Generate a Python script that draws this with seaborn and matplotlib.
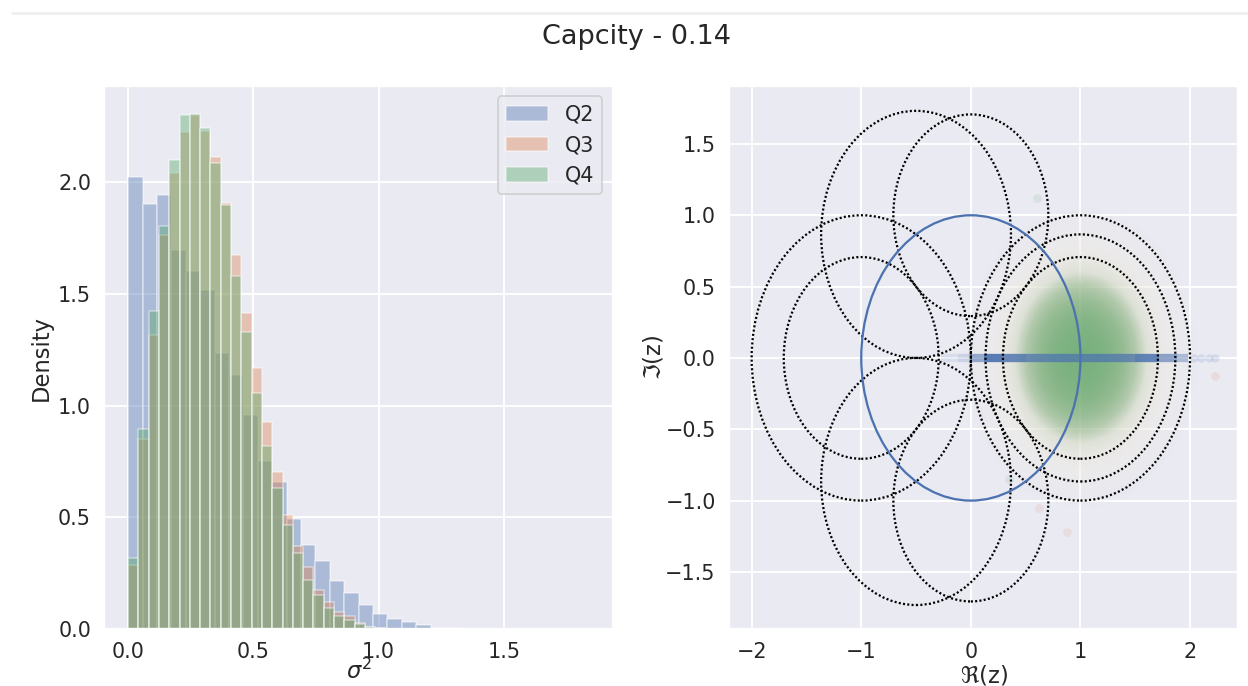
import numpy as np
import pandas as pd
import matplotlib
matplotlib.use("Agg")
import matplotlib.pyplot as plt
from matplotlib.patches import Circle
from matplotlib.lines import Line2D
import seaborn as sns

# ---- histogram of sigma^2 (density per bin) ----
q2_bin_width = 0.0575
q2_density = [2.024, 1.901, 1.941, 1.694, 1.603, 1.518, 1.236, 1.136, 0.957, 0.750,
              0.660, 0.491, 0.375, 0.303, 0.214, 0.159, 0.107, 0.069, 0.046, 0.030,
              0.016, 0.006, 0.003, 0.002, 0.001, 0.001, 0.0, 0.0, 0.001, 0.0, 0.0, 0.001]

q34_bin_width = 0.0411
q3_density = [0.287, 0.849, 1.317, 1.762, 2.040, 2.223, 2.300, 2.228, 2.112, 1.907,
              1.673, 1.415, 1.167, 0.925, 0.702, 0.510, 0.373, 0.278, 0.175, 0.120,
              0.075, 0.056, 0.027, 0.011, 0.005, 0.002, 0.001]
q4_density = [0.319, 0.893, 1.421, 1.802, 2.100, 2.301, 2.307, 2.244, 2.085, 1.899,
              1.582, 1.330, 1.056, 0.821, 0.633, 0.466, 0.341, 0.218, 0.152, 0.094,
              0.059, 0.040, 0.021, 0.009, 0.004, 0.002, 0.001]

series_labels = ["Q2", "Q3", "Q4"]

# ---- complex plane ----
# Q2 values lie on the real axis: segments of the dense band and their opacity
band_start = [-0.27, -0.12, 0.00, 0.12, 0.30, 0.50, 1.50, 1.72, 1.88]
band_end = [-0.12, 0.00, 0.12, 0.30, 0.50, 1.50, 1.72, 1.88, 1.98]
band_alpha = [0.10, 0.20, 0.55, 0.92, 0.82, 0.72, 0.85, 0.60, 0.40]
band_tail_x = [2.04, 2.10, 2.17, 2.23]

# Q3 / Q4 clouds around 1+0j: opacity by distance from the centre
cloud_center = (1.0, 0.0)
cloud_radius = [0.0, 0.1, 0.2, 0.3, 0.4, 0.5, 0.6, 0.7, 0.8, 0.9, 1.0, 1.1]
halo_opacity = [0.20, 0.22, 0.26, 0.32, 0.42, 0.52, 0.60, 0.55, 0.38, 0.18, 0.06, 0.0]
q3_opacity = [0.30, 0.30, 0.29, 0.27, 0.24, 0.18, 0.10, 0.07, 0.045, 0.025, 0.01, 0.0]
q4_opacity = [0.76, 0.75, 0.72, 0.66, 0.56, 0.40, 0.14, 0.06, 0.03, 0.015, 0.006, 0.0]
q3_stray_x = [0.88, 2.23, 0.62]
q3_stray_y = [-1.22, -0.13, -1.05]
q4_stray_x = [0.60, 0.35]
q4_stray_y = [1.12, -0.85]

# reference circles (dotted)
circle_cx = [1.0, 1.0, 1.0, -1.0, -1.0, 0.0, -0.5, 0.0, -0.5]
circle_cy = [0.0, 0.0, 0.0, 0.0, 0.0, 1.0, 0.866, -1.0, -0.866]
circle_r = [1.0, 0.866, 0.707, 1.0, 0.707, 0.707, 0.866, 0.707, 0.866]

sns.set_theme(style="darkgrid", context="notebook")
pal = sns.color_palette("deep")

DPI = 136
fig = plt.figure(figsize=(1248 / DPI, 686 / DPI), dpi=DPI)
ax1 = fig.add_axes([0.0836, 0.0831, 0.4074, 0.7915])
ax2 = fig.add_axes([0.5841, 0.0831, 0.4081, 0.7915])

# ---- left: histograms ----
for dens, width, color, label in [(q2_density, q2_bin_width, pal[0], series_labels[0]),
                                  (q3_density, q34_bin_width, pal[1], series_labels[1]),
                                  (q4_density, q34_bin_width, pal[2], series_labels[2])]:
    n = len(dens)
    edges = np.arange(n + 1) * width
    frame = pd.DataFrame({"sigma2": edges[:-1] + width / 2, "density": dens})
    sns.histplot(data=frame, x="sigma2", weights="density", bins=edges.tolist(),
                 stat="count", ax=ax1, color=color, alpha=0.4,
                 edgecolor=(1, 1, 1, 0.45), linewidth=0.8, label=label)

ax1.set_xlim(-0.095, 1.935)
ax1.set_ylim(0, 2.43)
ax1.set_xticks([0.0, 0.5, 1.0, 1.5])
ax1.set_yticks([0.0, 0.5, 1.0, 1.5, 2.0])
ax1.set_xlabel(r"$\sigma^2$")
ax1.set_ylabel("Density")
ax1.xaxis.set_label_coords(0.5, -0.055)
ax1.yaxis.set_label_coords(-0.101, 0.5)
ax1.legend(loc="upper right")

# ---- right: complex plane ----
xs = np.linspace(-0.2, 2.2, 420)
ys = np.linspace(-1.2, 1.2, 420)
gx, gy = np.meshgrid(xs, ys)
dist = np.hypot(gx - cloud_center[0], gy - cloud_center[1])
for opac, color, z in [(halo_opacity, (1.0, 1.0, 1.0), 2.5),
                       (q3_opacity, pal[1], 3), (q4_opacity, pal[2], 4)]:
    img = np.zeros(dist.shape + (4,))
    img[..., :3] = color
    img[..., 3] = np.interp(dist, cloud_radius, opac, right=0.0)
    ax2.imshow(img, extent=[xs[0], xs[-1], ys[0], ys[-1]], origin="lower",
               aspect="auto", interpolation="bilinear", zorder=z)

for x0, x1, a in zip(band_start, band_end, band_alpha):
    ax2.plot([x0, x1], [0, 0], color=pal[0], lw=4.4, alpha=a,
             solid_capstyle="butt", zorder=4.5)
sns.scatterplot(x=band_tail_x, y=[0.0] * len(band_tail_x), ax=ax2, color=pal[0],
                alpha=0.15, s=19, linewidth=0, zorder=4.5)

sns.scatterplot(x=q3_stray_x, y=q3_stray_y, ax=ax2, color=pal[1], alpha=0.12,
                s=22, linewidth=0, zorder=3)
sns.scatterplot(x=q4_stray_x, y=q4_stray_y, ax=ax2, color=pal[2], alpha=0.12,
                s=22, linewidth=0, zorder=4)

for cx, cy, r in zip(circle_cx, circle_cy, circle_r):
    ax2.add_patch(Circle((cx, cy), r, fill=False, ls=(0, (0.9, 1.0)), lw=1.2,
                         edgecolor="black", zorder=5))
ax2.add_patch(Circle((0, 0), 1.0, fill=False, lw=1.2, edgecolor=pal[0], zorder=6))

ax2.set_xlim(-2.207, 2.44)
ax2.set_ylim(-1.90, 1.906)
ax2.set_xticks([-2, -1, 0, 1, 2])
ax2.set_yticks([-1.5, -1.0, -0.5, 0.0, 0.5, 1.0, 1.5])
ax2.set_xlabel(r"$\Re$(z)")
ax2.set_ylabel(r"$\Im$(z)")
ax2.xaxis.set_label_coords(0.5, -0.063)
ax2.yaxis.set_label_coords(-0.124, 0.5)

for ax in (ax1, ax2):
    ax.tick_params(axis="both", pad=1.0)

fig.suptitle("Capcity - 0.14", x=0.51, y=0.946, va="center", fontsize=14.4)
fig.add_artist(Line2D([12 / 1248, 1.0], [1 - 12.5 / 686] * 2,
                      transform=fig.transFigure, color="#efefef", lw=1.5))

fig.savefig("out.png", dpi=DPI)
